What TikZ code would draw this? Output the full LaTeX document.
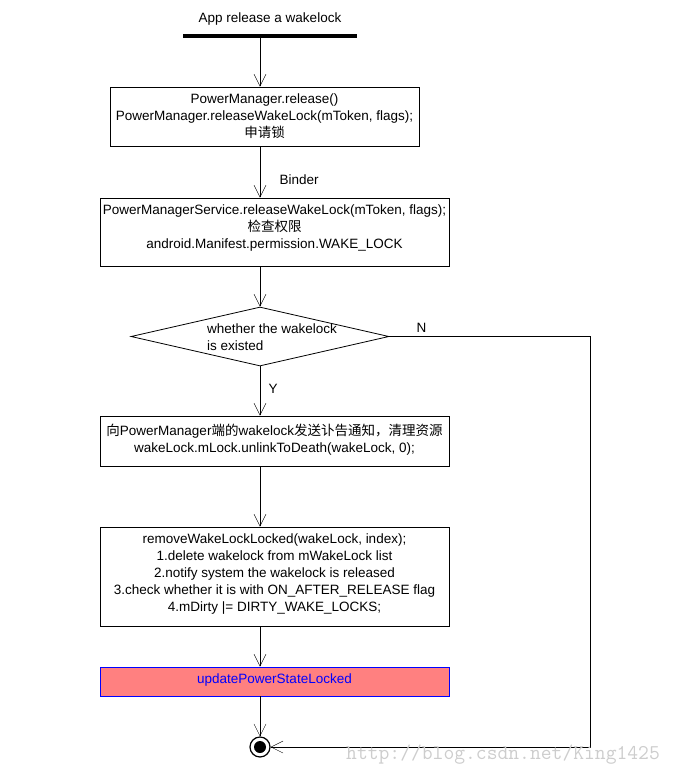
\documentclass[tikz,border=0pt]{standalone}
\usepackage{fontspec}
\setmainfont{Liberation Sans}
\newfontfamily\cjk{Noto Sans CJK SC}
\usetikzlibrary{shapes.geometric,arrows.meta}
\definecolor{salmonred}{RGB}{255,128,128}
\definecolor{wmgray}{RGB}{205,205,205}
\newcommand{\dn}[1]{\rule[-#1pt]{0pt}{0pt}}

\begin{document}
\begin{tikzpicture}[x=1pt,y=-1pt,>={Straight Barb[length=12pt,width=12pt]},
  font=\fontsize{13.5}{17}\selectfont]

%
% Styles
%
\tikzstyle{box} = [rectangle,draw,line width=0.8pt,align=center,inner sep=0pt]
\tikzstyle{hot} = [box,draw=blue,fill=salmonred,text=blue]
\tikzstyle{endstate} = [circle,draw,line width=1.2pt,minimum size=20pt,inner sep=0pt,
  path picture={\fill (path picture bounding box.center) circle (6pt);}]

\useasboundingbox (0,0) rectangle (682,774);

\node (title) at (270,19) {App release a wakelock};
\node[fill,minimum width=174pt,minimum height=4pt,inner sep=0pt] (start) at (270,36) {};

\node[box,minimum width=309pt,minimum height=59pt] (pm) at (264.5,116.5)
  {PowerManager.release()\\PowerManager.releaseWakeLock(mToken, flags);\\{\cjk 申请锁}};
\node[box,minimum width=349pt,minimum height=68pt] (pms) at (274.5,232)
  {PowerManagerService.releaseWakeLock(mToken, flags);\\{\cjk 检查权限}\\android.Manifest.permission.WAKE\_LOCK\dn{10}};
\node[diamond,draw,line width=0.8pt,minimum width=258pt,minimum height=59pt,inner sep=0pt] (dec) at (260,336.5) {};
\node[align=left,anchor=west,inner sep=0pt] (dectext) at (207,337.5) {whether the wakelock\\is existed};
\node[box,minimum width=349pt,minimum height=50pt] (unlink) at (274.5,441)
  {{\cjk 向}PowerManager{\cjk 端的}wakelock{\cjk 发送讣告通知，清理资源}\\wakeLock.mLock.unlinkToDeath(wakeLock, 0);\dn{6}};
\node[box,minimum width=349pt,minimum height=99pt] (remove) at (274.5,576.5)
  {removeWakeLockLocked(wakeLock, index);\\1.delete wakelock from mWakeLock list\\2.notify system the wakelock is released\\3.check whether it is with ON\_AFTER\_RELEASE flag\\4.mDirty |= DIRTY\_WAKE\_LOCKS;\dn{7}};
\node[hot,minimum width=349pt,minimum height=29pt] (update) at (274.5,681.5) {updatePowerStateLocked\dn{5}};
\node[endstate] (end) at (260,747) {};
\coordinate (turn) at (590,747);

\draw[->] (start.south -| end) -- (pm.north -| end);
\draw[->] (pm.south -| end) -- node[right=16pt,pos=0.65] {Binder} (pms.north -| end);
\draw[->] (pms.south -| end) -- (dec.north);
\draw[->] (dec.south) -- node[right=5pt,pos=0.45] {Y} (unlink.north -| end);
\draw[->] (unlink.south -| end) -- (remove.north -| end);
\draw[->] (remove.south -| end) -- (update.north -| end);
\draw[->] (update.south -| end) -- (end);
\draw[->] (dec.east) -- node[above,pos=0.16] {N} (dec.east -| turn) -- (turn) -- (end);

\node[text=wmgray,font=\fontsize{21}{21}\ttfamily,anchor=west,inner sep=0pt] (wm) at (346,755) {http://blog.csdn.net/King1425};

\end{tikzpicture}
\end{document}
